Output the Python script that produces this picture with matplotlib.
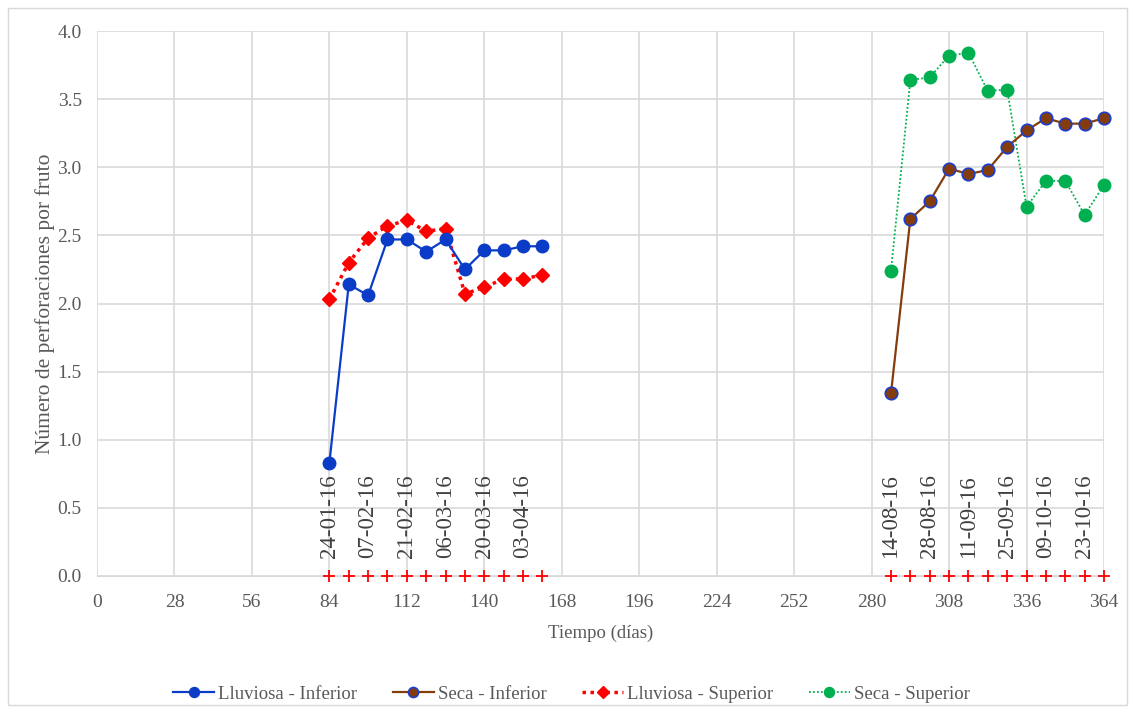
import matplotlib
matplotlib.use('Agg')
import matplotlib.pyplot as plt
from matplotlib.patches import Rectangle

plt.rcParams['font.family'] = ['Liberation Serif', 'DejaVu Serif']

# dias de muestreo (cada 7 dias)
dias_lluviosa = [84, 91, 98, 105, 112, 119, 126, 133, 140, 147, 154, 161]
dias_seca = [287, 294, 301, 308, 315, 322, 329, 336, 343, 350, 357, 364]

lluviosa_inferior = [0.83, 2.14, 2.06, 2.47, 2.47, 2.38, 2.47, 2.25, 2.39, 2.39, 2.42, 2.42]
lluviosa_superior = [2.03, 2.30, 2.48, 2.57, 2.61, 2.53, 2.55, 2.07, 2.12, 2.18, 2.18, 2.21]
seca_inferior = [1.34, 2.62, 2.75, 2.99, 2.95, 2.98, 3.15, 3.27, 3.36, 3.32, 3.32, 3.36]
seca_superior = [2.24, 3.64, 3.66, 3.82, 3.84, 3.56, 3.57, 2.71, 2.90, 2.90, 2.65, 2.87]

fechas_lluviosa = ['24-01-16', '07-02-16', '21-02-16', '06-03-16', '20-03-16', '03-04-16']
fechas_seca = ['14-08-16', '28-08-16', '11-09-16', '25-09-16', '09-10-16', '23-10-16']

gris = '#595959'
fig = plt.figure(figsize=(11.35, 7.13), dpi=100)
ax = fig.add_axes([97/1135, 1 - 576/713, (1104-97)/1135, (576-31)/713])

ax.plot(dias_lluviosa, lluviosa_inferior, color='#0a3cc8', lw=1.6, marker='o', ms=9,
        label='Lluviosa - Inferior', zorder=4, clip_on=False)
ax.plot(dias_seca, seca_inferior, color='#843c0c', lw=1.6, marker='o', ms=9,
        mfc='#843c0c', mec='#1a3fd0', mew=1.2, label='Seca - Inferior', zorder=4, clip_on=False)
ax.plot(dias_lluviosa, lluviosa_superior, color='#ff0000', lw=2.5, ls=(0, (1, 1.3)),
        marker='D', ms=7.5, label='Lluviosa - Superior', zorder=3, clip_on=False)
ax.plot(dias_seca, seca_superior, color='#00b050', lw=1.3, ls=(0, (1, 1.2)),
        marker='o', ms=9, label='Seca - Superior', zorder=3, clip_on=False)

# marcas de las fechas de muestreo sobre el eje
todos = dias_lluviosa + dias_seca
ax.plot(todos, [0] * len(todos), ls='none', marker='+', color='#ff0000', ms=8, mew=1.3,
        clip_on=False, zorder=5)

# etiquetas de fecha giradas
for x, f in zip(dias_lluviosa[::2] + dias_seca[::2], fechas_lluviosa + fechas_seca):
    ax.text(x, 0.13, f, rotation=90, ha='center', va='bottom', fontsize=16.5, color='#404040')

ax.set_xlim(0, 364)
ax.set_ylim(0, 4.0)
ax.set_xticks(range(0, 365, 28))
ax.set_yticks([i * 0.5 for i in range(9)])
ax.set_yticklabels([f'{i * 0.5:.1f}' for i in range(9)])
ax.tick_params(length=0, labelsize=14, colors=gris)
ax.tick_params(axis='x', pad=13)
ax.tick_params(axis='y', pad=11)
ax.grid(True, color='#d9d9d9', lw=1.2)
ax.set_axisbelow(True)
for s in ax.spines.values():
    s.set_visible(False)
ax.spines['bottom'].set_visible(True)
ax.spines['bottom'].set_color('#d9d9d9')

ax.set_xlabel('Tiempo (días)', fontsize=13.5, color=gris, labelpad=10)
ax.set_ylabel('Número de perforaciones por fruto', fontsize=15.5, color=gris, labelpad=2)

ax.legend(loc='upper center', bbox_to_anchor=(0.471, -0.17), ncol=4, frameon=False,
          fontsize=13.5, labelcolor=gris, handlelength=2.2, columnspacing=1.9,
          handletextpad=0.2, markerscale=0.8)

fig.patches.append(Rectangle((8/1135, 8/713), 1 - 16/1135, 1 - 16/713, transform=fig.transFigure,
                             fill=False, edgecolor='#d9d9d9', lw=1))

fig.savefig('out.png', dpi=100)
